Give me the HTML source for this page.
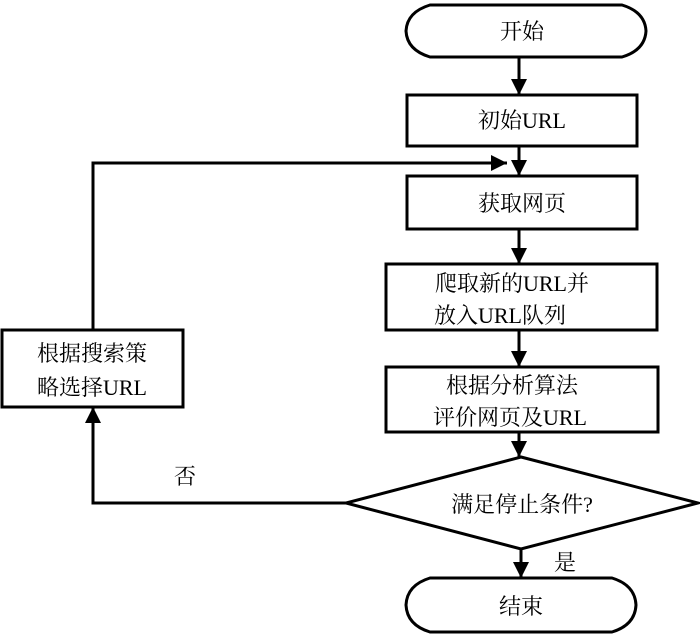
<!DOCTYPE html>
<html><head><meta charset="utf-8"><style>
body{margin:0;background:#fff}
svg text{font-family:"Liberation Serif","Noto Serif CJK SC",serif;font-size:22px;fill:#000}
</style></head><body>
<svg width="700" height="635" viewBox="0 0 700 635" xmlns="http://www.w3.org/2000/svg">
<defs><marker id="a" markerWidth="10" markerHeight="10" refX="9" refY="5" orient="auto" markerUnits="userSpaceOnUse"><path d="M0,0 L10,5 L0,10 z" fill="#000"/></marker>
<marker id="b" markerWidth="14" markerHeight="16" refX="16" refY="8" orient="auto" markerUnits="userSpaceOnUse"><path d="M0,0 L16,8 L0,16 z" fill="#000"/></marker></defs>
<g fill="#fff" stroke="#000" stroke-width="3">
<path d="M430,5 H622 Q645,12 646,31 Q645,50 622,57 H430 Q407,50 406,31 Q407,12 430,5 z"/>
<rect x="407" y="95" width="230" height="51"/>
<rect x="407" y="176" width="230" height="53"/>
<rect x="386" y="264" width="271" height="66"/>
<rect x="386" y="367" width="272" height="65"/>
<path d="M521,457 L698,503 L521,549 L346,503 z"/>
<path d="M430,578 H612 Q635,585 636,605 Q635,625 612,632 H430 Q407,625 406,605 Q407,585 430,578 z"/>
<rect x="2" y="330" width="181" height="77"/>
</g>
<g stroke="#000" stroke-width="3" fill="none">
<line x1="519" y1="57" x2="519" y2="95" marker-end="url(#b)"/>
<line x1="519" y1="146" x2="519" y2="176" marker-end="url(#b)"/>
<line x1="519" y1="229" x2="519" y2="264" marker-end="url(#b)"/>
<line x1="519" y1="330" x2="519" y2="367" marker-end="url(#b)"/>
<line x1="519" y1="432" x2="519" y2="457" marker-end="url(#b)"/>
<line x1="521" y1="549" x2="521" y2="578" marker-end="url(#b)"/>
<polyline points="346,503 93,503 93,407" marker-end="url(#b)"/>
<polyline points="93,330 93,163 507,163" marker-end="url(#b)"/>
</g>
<g text-anchor="middle">
<text x="522" y="39">开始</text>
<text x="522" y="128">初始URL</text>
<text x="522" y="211">获取网页</text>
<text x="512" y="291">爬取新的URL并</text>
<text x="500" y="323">放入URL队列</text>
<text x="512" y="393">根据分析算法</text>
<text x="510" y="425">评价网页及URL</text>
<text x="522" y="512">满足停止条件?</text>
<text x="521" y="614">结束</text>
<text x="92" y="361">根据搜索策</text>
<text x="92" y="395">略选择URL</text>
<text x="185" y="484">否</text>
<text x="565" y="570">是</text>
</g>
</svg>
</body></html>
